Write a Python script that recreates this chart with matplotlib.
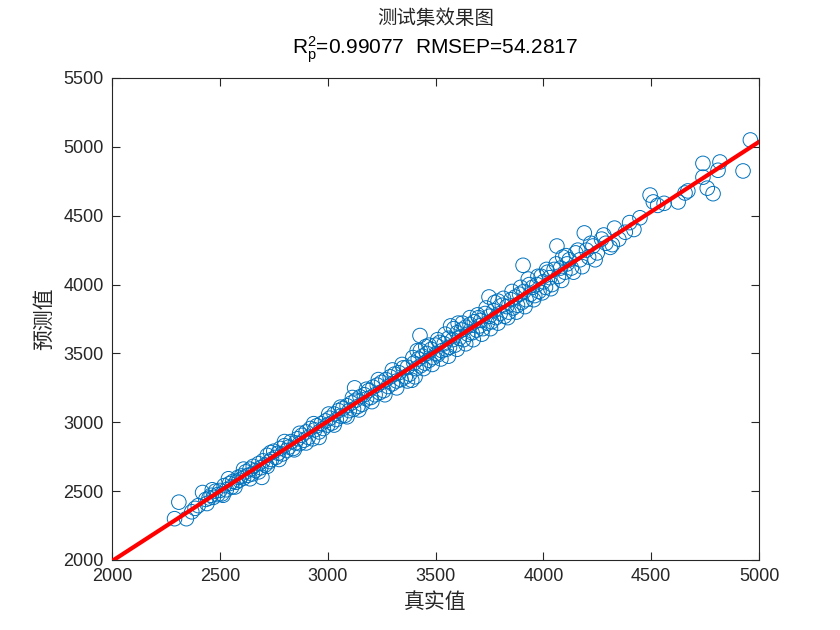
import numpy as np
import matplotlib
matplotlib.use("Agg")
import matplotlib.pyplot as plt

# ---- data ----
actual = [2290, 2310, 2345, 2370, 2385, 2400, 2420, 2435, 2450, 2460, 2470, 2480, 2490, 2500, 2510, 2520,
          2530, 2545, 2555, 2560, 2575, 2585, 2590, 2600, 2610, 2620, 2630, 2640, 2650, 2655, 2665, 2680,
          2690, 2695, 2700, 2710, 2720, 2730, 2740, 2750, 2760, 2770, 2780, 2790, 2800, 2810, 2820, 2830,
          2840, 2850, 2860, 2870, 2880, 2890, 2900, 2910, 2920, 2930, 2940, 2950, 2960, 2970, 2980, 2990,
          3000, 3010, 3020, 3030, 3040, 3050, 3060, 3070, 3080, 3090, 3100, 3110, 3120, 3125, 3130, 3140,
          3150, 3160, 3170, 3180, 3190, 3200, 3210, 3220, 3230, 3240, 3250, 3260, 3270, 3280, 3290, 3300,
          3310, 3320, 3330, 3340, 3350, 3360, 3370, 3380, 3390, 3400, 3410, 3415, 3420, 3428, 3430, 3440,
          3450, 3455, 3460, 3470, 3480, 3490, 3500, 3505, 3510, 3520, 3530, 3540, 3550, 3560, 3565, 3570,
          3580, 3590, 3600, 3605, 3610, 3620, 3630, 3640, 3650, 3660, 3670, 3680, 3690, 3700, 3705, 3710,
          3720, 3730, 3740, 3748, 3750, 3760, 3770, 3780, 3790, 3800, 3810, 3820, 3830, 3840, 3850, 3860,
          3870, 3880, 3890, 3900, 3906, 3910, 3920, 3930, 3940, 3950, 3960, 3970, 3980, 3990, 4000, 4010,
          4020, 4030, 4040, 4050, 4063, 4070, 4080, 4090, 4100, 4110, 4120, 4130, 4150, 4170, 4190, 4200,
          4210, 4230, 4250, 4270, 4290, 4310, 4330, 4350, 4380, 4400, 4420, 4448, 4495, 4510, 4530, 4560,
          4625, 4657, 4670, 4740, 4740, 4760, 4787, 4810, 4819, 4926, 4960,
          2440, 2465, 2515, 2540, 2570, 2610, 2640, 2680, 2720, 2735, 2775, 2800, 2845, 2870, 2900, 2935,
          2960, 3005, 3030, 3060, 3090, 3115, 3145, 3180, 3205, 3235, 3265, 3300, 3320, 3345, 3370, 3395,
          3405, 3430, 3445, 3470, 3485, 3510, 3525, 3545, 3560, 3585, 3600, 3625, 3640, 3660, 3675, 3695,
          3715, 3735, 3755, 3775, 3790, 3815, 3835, 3855, 3875, 3895, 3915, 3935, 3955, 3975, 3995, 4015,
          4035, 4060, 4085, 4105, 4140, 4160, 4180, 4220, 4240, 4280, 4320]
predicted = [2300, 2420, 2300, 2350, 2375, 2395, 2490, 2440, 2450, 2470, 2455, 2500, 2475, 2505, 2480, 2540,
             2510, 2555, 2530, 2570, 2565, 2600, 2580, 2610, 2595, 2640, 2615, 2660, 2625, 2680, 2650, 2700,
             2670, 2600, 2720, 2690, 2760, 2715, 2730, 2790, 2745, 2775, 2810, 2770, 2830, 2795, 2820, 2860,
             2810, 2850, 2880, 2845, 2905, 2870, 2930, 2890, 2955, 2880, 2945, 2975, 2930, 2990, 2955, 3010,
             2980, 3030, 2995, 3060, 3020, 3085, 3045, 3100, 3050, 3120, 3085, 3140, 3095, 3250, 3160, 3115,
             3185, 3130, 3200, 3170, 3230, 3180, 3255, 3200, 3270, 3215, 3290, 3230, 3310, 3260, 3330, 3280,
             3350, 3300, 3360, 3310, 3395, 3330, 3400, 3350, 3305, 3430, 3390, 3520, 3460, 3630, 3410, 3480,
             3430, 3550, 3500, 3450, 3530, 3470, 3560, 3500, 3490, 3580, 3520, 3570, 3530, 3610, 3545, 3700,
             3600, 3560, 3650, 3720, 3610, 3670, 3600, 3690, 3640, 3710, 3650, 3730, 3670, 3760, 3700, 3740,
             3680, 3790, 3720, 3910, 3770, 3730, 3810, 3760, 3880, 3790, 3850, 3770, 3840, 3800, 3890, 3830,
             3910, 3850, 3930, 3870, 4140, 3950, 3890, 4040, 3930, 3980, 3920, 4000, 3950, 4060, 4020, 3980,
             4090, 4050, 4000, 4110, 4280, 4060, 4120, 4200, 4090, 4150, 4180, 4120, 4230, 4180, 4375, 4250,
             4200, 4280, 4230, 4330, 4300, 4270, 4410, 4330, 4380, 4450, 4400, 4485, 4650, 4600, 4575, 4590,
             4600, 4665, 4680, 4880, 4780, 4700, 4660, 4830, 4890, 4825, 5050,
             2410, 2510, 2470, 2590, 2530, 2660, 2590, 2640, 2680, 2780, 2730, 2860, 2800, 2920, 2850, 2990,
             2890, 3060, 2980, 3110, 3040, 3180, 3090, 3240, 3150, 3310, 3200, 3380, 3250, 3420, 3300, 3470,
             3330, 3520, 3390, 3560, 3420, 3600, 3460, 3640, 3480, 3680, 3530, 3720, 3570, 3760, 3600, 3780,
             3640, 3830, 3680, 3870, 3720, 3900, 3760, 3950, 3800, 3980, 3840, 4000, 3890, 4060, 3940, 4110,
             3970, 4150, 4030, 4210, 4090, 4250, 4130, 4300, 4180, 4360, 4290]

x_ticks = [2000, 2500, 3000, 3500, 4000, 4500, 5000]
y_ticks = [2000, 2500, 3000, 3500, 4000, 4500, 5000, 5500]
title_cn = "测试集效果图"
r2_text = "0.99077"
rmsep_text = "54.2817"
xlabel_cn = "真实值"
ylabel_cn = "预测值"

plt.rcParams['font.family'] = ['Liberation Sans', 'DejaVu Sans']
plt.rcParams['mathtext.fontset'] = 'custom'
plt.rcParams['mathtext.rm'] = 'Liberation Sans'
plt.rcParams['mathtext.it'] = 'Liberation Sans'

fig = plt.figure(figsize=(8.4, 6.3), dpi=100)
ax = fig.add_axes([112/840, 70/630, 647/840, 482/630])

x = np.array(actual, dtype=float)
y = np.array(predicted, dtype=float)
ax.scatter(x, y, s=110, facecolors='none', edgecolors='#0072BD', linewidths=0.7, zorder=2)

coef = np.polyfit(x, y, 1)
xl = np.array([x_ticks[0], x_ticks[-1]], dtype=float)
ax.plot(xl, np.polyval(coef, xl), color='#FF0000', linewidth=3, zorder=3)

ax.set_xlim(x_ticks[0], x_ticks[-1])
ax.set_ylim(y_ticks[0], y_ticks[-1])
ax.set_xticks(x_ticks)
ax.set_yticks(y_ticks)
ax.tick_params(direction='in', top=True, right=True, labelsize=13, length=6, width=0.8, pad=6)
for sp in ax.spines.values():
    sp.set_linewidth(0.8)
    sp.set_color('#262626')
ax.tick_params(colors='#262626')

cjk = ['Noto Sans CJK SC', 'DejaVu Sans']
ax.set_xlabel(xlabel_cn, family=cjk, fontsize=15, labelpad=4, color='#262626')
ax.set_ylabel(ylabel_cn, family=cjk, fontsize=15, labelpad=6, color='#262626')

cx = (112 + 759) / 2 / 840
fig.text(cx, 1 - 18/630, title_cn, family=cjk, fontsize=14, ha='center', va='center', color='#262626')
fig.text(cx, 1 - 50/630, r'$\mathregular{R^{2}_{p}}$=' + r2_text + '  RMSEP=' + rmsep_text,
         fontsize=15, ha='center', va='center', color='#000000')

fig.savefig('out.png', dpi=100)
